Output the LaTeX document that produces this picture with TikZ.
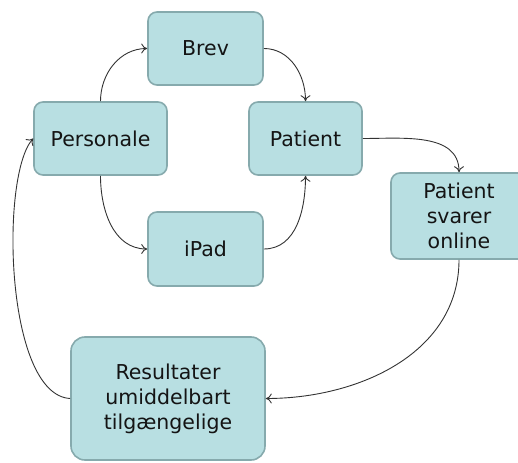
\documentclass[tikz,border=0pt]{standalone}
\usepackage{fontspec}
\setmainfont{DejaVu Sans}
\usetikzlibrary{arrows.meta}
\definecolor{boxfill}{HTML}{B8DFE2}
\definecolor{boxline}{HTML}{86AAAD}
\definecolor{arrowc}{HTML}{333333}
\definecolor{txt}{HTML}{141414}
\begin{document}
\begin{tikzpicture}[x=1pt,y=-1pt,
  box/.style={draw=boxline, line width=1.6pt, fill=boxfill, rounded corners=9pt,
    text=txt, align=center, inner sep=0pt,
    font=\fontsize{20.5}{25}\selectfont},
  conn/.style={draw=arrowc, line width=0.9pt, -{To[length=6pt,width=10pt]}}]
\useasboundingbox (0,0) rectangle (518,462);
\node[box, minimum width=115pt, minimum height=73pt] (brev) at (205.5,48.5) {Brev};
\node[box, minimum width=133pt, minimum height=73pt] (pers) at (100.5,138.5) {Personale};
\node[box, minimum width=113pt, minimum height=73pt] (pat) at (305.5,138.5) {Patient};
\node[box, minimum width=115pt, minimum height=74pt] (ipad) at (205.5,249) {iPad};
\node[box, minimum width=136pt, minimum height=86pt] (pso) at (459,216) {Patient\\svarer\\online};
\node[box, minimum width=194pt, minimum height=123pt, rounded corners=14pt] (res) at (168,398.5) {Resultater\\umiddelbart\\tilgængelige};
\draw[conn] (pers.north) to[out=90,in=180] (brev.west);
\draw[conn] (brev.east) to[out=0,in=90] (pat.north);
\draw[conn] (pers.south) to[out=-90,in=180] (ipad.west);
\draw[conn] (ipad.east) to[out=0,in=-90] (pat.south);
\draw[conn] (pat.east) to[out=0,in=90] (pso.north);
\draw[conn] (pso.south) to[out=-90,in=0] (res.east);
\draw[conn] (res.west) .. controls (5,395) and (0,175) .. (pers.west);
\end{tikzpicture}
\end{document}
